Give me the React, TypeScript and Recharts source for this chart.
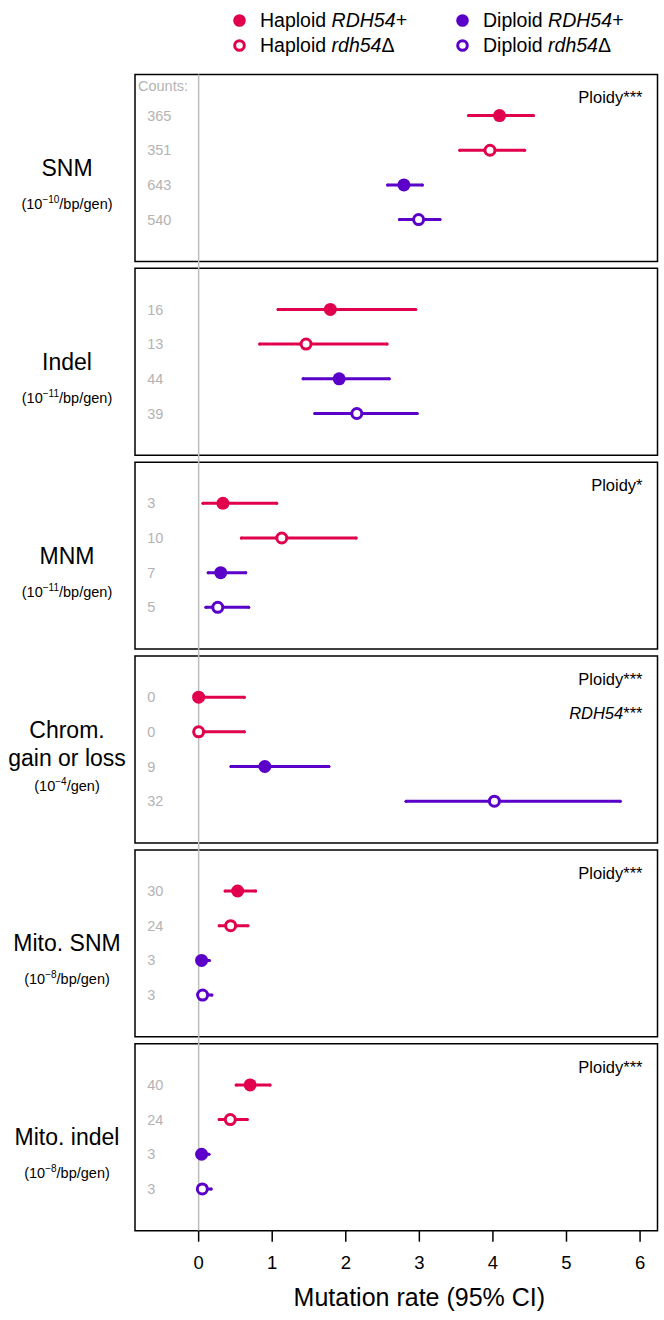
import React from "react";
import { ScatterChart, Scatter, XAxis, YAxis, ErrorBar, ReferenceArea, ReferenceLine, Label } from "recharts";

const HAP = "#e0004d";
const DIP = "#5a00c8";
const GRAY = "#b3b3b3";
const FONT = '"Liberation Sans", Arial, Helvetica, sans-serif';

// panels, top to bottom
const panelTitles = [["SNM"], ["Indel"], ["MNM"], ["Chrom.", "gain or loss"], ["Mito. SNM"], ["Mito. indel"]];
const panelExponents = ["\u221210", "\u221211", "\u221211", "\u22124", "\u22128", "\u22128"];
const panelUnits = ["/bp/gen", "/bp/gen", "/bp/gen", "/gen", "/bp/gen", "/bp/gen"];
const panelStats = [["Ploidy***"], [], ["Ploidy*"], ["Ploidy***", "RDH54***"], ["Ploidy***"], ["Ploidy***"]];

// mutation rates and 95% CI per panel
const hapPlusRate = [4.09, 1.79, 0.33, 0, 0.53, 0.7];
const hapPlusLow = [3.67, 1.08, 0.06, 0, 0.36, 0.51];
const hapPlusHigh = [4.55, 2.95, 1.06, 0.62, 0.775, 0.97];
const hapPlusCounts = [365, 16, 3, 0, 30, 40];

const hapDelRate = [3.96, 1.46, 1.13, 0, 0.435, 0.43];
const hapDelLow = [3.55, 0.83, 0.58, 0, 0.28, 0.28];
const hapDelHigh = [4.43, 2.56, 2.14, 0.62, 0.67, 0.66];
const hapDelCounts = [351, 13, 10, 0, 24, 24];

const dipPlusRate = [2.79, 1.91, 0.3, 0.9, 0.04, 0.04];
const dipPlusLow = [2.57, 1.42, 0.13, 0.44, 0, 0];
const dipPlusHigh = [3.04, 2.59, 0.64, 1.77, 0.145, 0.14];
const dipPlusCounts = [643, 44, 7, 9, 3, 3];

const dipDelRate = [2.99, 2.15, 0.26, 4.02, 0.054, 0.05];
const dipDelLow = [2.73, 1.58, 0.1, 2.82, 0, 0];
const dipDelHigh = [3.28, 2.97, 0.68, 5.73, 0.18, 0.17];
const dipDelCounts = [540, 39, 5, 32, 3, 3];

const xTicks = [0, 1, 2, 3, 4, 5, 6];

// layout of the stacked panels (y axis in pixel-like units)
const PANEL_STEP = 193.96;
const PANEL_H = 187;
const ROW_TOP = 41.1;
const ROW_STEP = 34.7;
const COUNT_X = -0.7;
const X_DOMAIN = [-0.865, 6.237];

const rowY = (panel: number, row: number) => panel * PANEL_STEP + ROW_TOP + row * ROW_STEP;

const makeSeries = (rate: number[], low: number[], high: number[], row: number) =>
  rate.map((r, i) => ({ x: r, y: rowY(i, row), err: [r - low[i], high[i] - r] }));

const series = [
  { name: "hapPlus", color: HAP, hollow: false, data: makeSeries(hapPlusRate, hapPlusLow, hapPlusHigh, 0) },
  { name: "hapDel", color: HAP, hollow: true, data: makeSeries(hapDelRate, hapDelLow, hapDelHigh, 1) },
  { name: "dipPlus", color: DIP, hollow: false, data: makeSeries(dipPlusRate, dipPlusLow, dipPlusHigh, 2) },
  { name: "dipDel", color: DIP, hollow: true, data: makeSeries(dipDelRate, dipDelLow, dipDelHigh, 3) },
];

const countData = [hapPlusCounts, hapDelCounts, dipPlusCounts, dipDelCounts].flatMap((c, row) =>
  c.map((n, i) => ({ x: COUNT_X, y: rowY(i, row), count: n }))
);

const Dot = ({ cx, cy, color, hollow }: any) =>
  hollow ? (
    <circle cx={cx} cy={cy} r={5} fill="#fff" stroke={color} strokeWidth={3} />
  ) : (
    <circle cx={cx} cy={cy} r={6.5} fill={color} />
  );

const CountText = ({ cx, cy, payload }: any) => (
  <text x={cx} y={cy} dy="0.35em" fontSize={14.5} fill={GRAY} fontFamily={FONT}>
    {payload.count}
  </text>
);

const PanelLabel = ({ viewBox, panel }: any) => {
  const { x, y, width, height } = viewBox;
  const mid = y + height / 2;
  const titles = panelTitles[panel];
  const cx = x - 68;
  const titleY = titles.length === 1 ? [mid] : [mid - 20, mid + 8];
  const subY = mid + 36;
  return (
    <g fontFamily={FONT}>
      {titles.map((t, i) => (
        <text key={t} x={cx} y={titleY[i]} dy="0.35em" textAnchor="middle" fontSize={23} fill="#000">
          {t}
        </text>
      ))}
      <text x={cx} y={subY} dy="0.35em" textAnchor="middle" fontSize={14.5} fill="#000">
        (10<tspan fontSize={10} dy="-6">{panelExponents[panel]}</tspan>
        <tspan dy="6">{panelUnits[panel]})</tspan>
      </text>
      {panelStats[panel].map((s, i) => (
        <text key={s} x={x + width - 15} y={y + 23 + i * 34} dy="0.35em" textAnchor="end" fontSize={16.5} fill="#000">
          {s.startsWith("RDH54") ? (
            <>
              <tspan fontStyle="italic">RDH54</tspan>
              <tspan>{s.slice(5)}</tspan>
            </>
          ) : (
            s
          )}
        </text>
      ))}
      {panel === 0 && (
        <text x={x + 3} y={y + 11} dy="0.35em" fontSize={14.5} fill={GRAY}>
          Counts:
        </text>
      )}
    </g>
  );
};

// axis title centred on the tick range, not the whole panel
const AxisTitle = ({ viewBox }: any) => {
  const { x, y, width, height } = viewBox;
  const span = X_DOMAIN[1] - X_DOMAIN[0];
  const mid = (xTicks[0] + xTicks[xTicks.length - 1]) / 2;
  const cx = x + (width * (mid - X_DOMAIN[0])) / span;
  return (
    <text x={cx} y={y + height - 5} textAnchor="middle" fontSize={25} fill="#000" fontFamily={FONT}>
      Mutation rate (95% CI)
    </text>
  );
};

const legendItems = [
  { color: HAP, hollow: false, pre: "Haploid ", it: "RDH54+", post: "", left: 232, top: 8 },
  { color: HAP, hollow: true, pre: "Haploid ", it: "rdh54", post: "\u0394", left: 232, top: 33 },
  { color: DIP, hollow: false, pre: "Diploid ", it: "RDH54+", post: "", left: 455, top: 8 },
  { color: DIP, hollow: true, pre: "Diploid ", it: "rdh54", post: "\u0394", left: 455, top: 33 },
];

export default function App() {
  return (
    <div style={{ position: "absolute", left: 0, top: 0, width: 664, height: 1320, background: "#fff", fontFamily: FONT }}>
      {legendItems.map((l) => (
        <div
          key={l.pre + l.it}
          style={{ position: "absolute", left: l.left, top: l.top, height: 25, display: "flex", alignItems: "center", fontSize: 19.5, color: "#000", whiteSpace: "nowrap" }}
        >
          <svg width={15} height={15} style={{ marginRight: 13 }}>
            {l.hollow ? (
              <circle cx={7.5} cy={7.5} r={4.8} fill="#fff" stroke={l.color} strokeWidth={3} />
            ) : (
              <circle cx={7.5} cy={7.5} r={6.3} fill={l.color} />
            )}
          </svg>
          <span>
            {l.pre}
            <i>{l.it}</i>
            {l.post}
          </span>
        </div>
      ))}
      <ScatterChart width={664} height={1320} margin={{ top: 74.5, right: 6.5, bottom: 9.3, left: 135 }}>
        <XAxis
          type="number"
          dataKey="x"
          domain={X_DOMAIN}
          ticks={xTicks}
          allowDataOverflow
          axisLine={false}
          tickLine={{ stroke: "#000", strokeWidth: 1.5 }}
          tickSize={11}
          tickMargin={14}
          height={80}
          tick={{ fontSize: 18.5, fill: "#000", fontFamily: FONT }}
        >
          <Label content={AxisTitle} />
        </XAxis>
        <YAxis type="number" dataKey="y" domain={[0, 5 * PANEL_STEP + PANEL_H]} reversed hide />
        <ReferenceLine x={0} stroke="#bdbdbd" strokeWidth={1.5} />
        {panelTitles.map((_, p) => (
          <ReferenceArea
            key={p}
            x1={X_DOMAIN[0]}
            x2={X_DOMAIN[1]}
            y1={p * PANEL_STEP}
            y2={p * PANEL_STEP + PANEL_H}
            fill="none"
            fillOpacity={0}
            stroke="#000"
            strokeWidth={1.5}
            ifOverflow="visible"
            label={(props: any) => <PanelLabel {...props} panel={p} />}
          />
        ))}
        <Scatter data={countData} isAnimationActive={false} shape={CountText} />
        {series.map((s) => (
          <Scatter
            key={s.name}
            data={s.data}
            isAnimationActive={false}
            shape={(props: any) => <Dot {...props} color={s.color} hollow={s.hollow} />}
          >
            <ErrorBar dataKey="err" direction="x" width={0} stroke={s.color} strokeWidth={3} strokeLinecap="round" isAnimationActive={false} />
          </Scatter>
        ))}
      </ScatterChart>
    </div>
  );
}
